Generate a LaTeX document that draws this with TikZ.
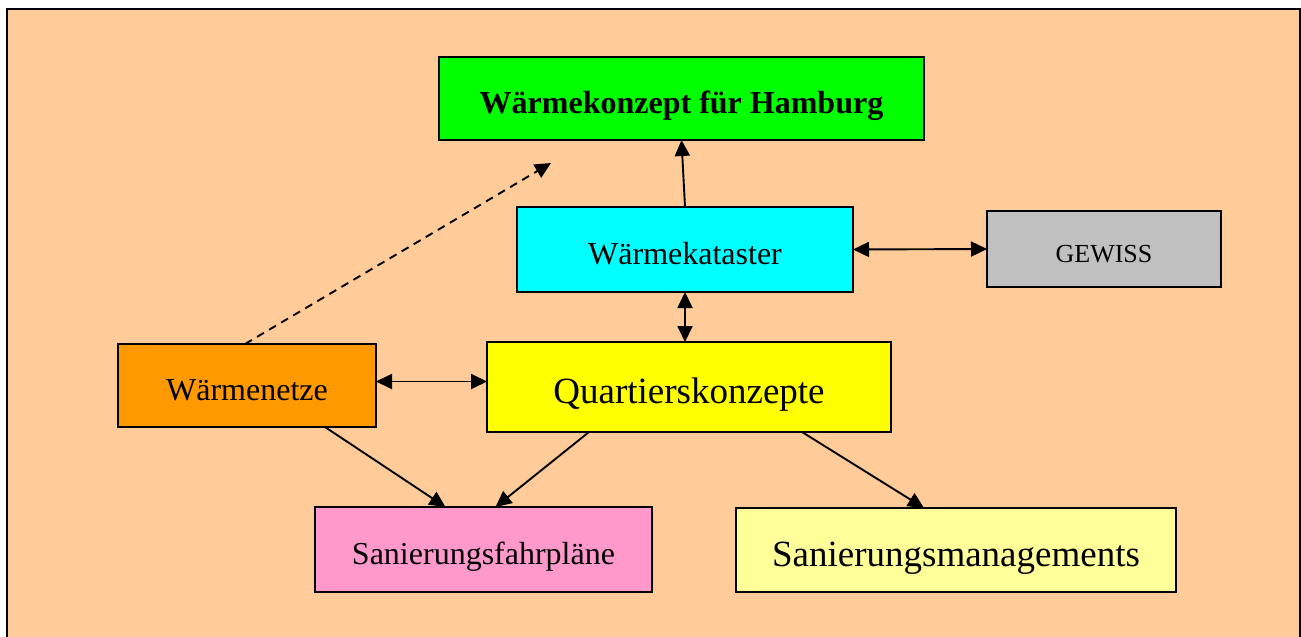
\documentclass[tikz,border=0pt]{standalone}
\usepackage{fontspec}
\setmainfont{Liberation Serif}
\usetikzlibrary{arrows.meta}
\definecolor{peach}{HTML}{FFCC99}
\definecolor{leaf}{HTML}{00FF00}
\definecolor{aqua}{HTML}{00FFFF}
\definecolor{stone}{HTML}{C0C0C0}
\definecolor{tangerine}{HTML}{FF9900}
\definecolor{lemon}{HTML}{FFFF00}
\definecolor{rose}{HTML}{FF99CC}
\definecolor{cream}{HTML}{FFFF99}
\definecolor{ink}{HTML}{000000}

\begin{document}
\begin{tikzpicture}[
  x=1pt,y=-1pt,
  font=\fontsize{32}{38}\selectfont,
  box/.style={draw=ink,line width=1.6pt,inner sep=0pt,outer sep=0pt,
              text height=29pt,text depth=0pt},
  bigtext/.style={font=\fontsize{37}{43}\selectfont,text height=33pt},
  smalltext/.style={font=\fontsize{26}{31}\selectfont,text height=26pt},
  link/.style={-{Triangle[length=16pt,width=15pt]},line width=1.9pt,draw=ink},
  both/.style={{Triangle[length=16pt,width=15pt]}-{Triangle[length=16pt,width=15pt]},
               line width=1.9pt,draw=ink},
]
\useasboundingbox (0,0) rectangle (1301,637);

% frame
\draw[line width=2pt,fill=peach] (7,9) rectangle (1300,650);

% boxes
\node[box,fill=leaf,minimum width=485,minimum height=83,
      font=\fontsize{32}{38}\selectfont\bfseries] (konzept) at (681.5,98.5)
  {Wärmekonzept für Hamburg};
\node[box,fill=aqua,minimum width=336,minimum height=85] (kataster) at (685,249.5)
  {Wärmekataster};
\node[box,fill=stone,smalltext,minimum width=234,minimum height=76] (gewiss) at (1104,249)
  {GEWISS};
\node[box,fill=tangerine,minimum width=258,minimum height=83] (netze) at (247,385.5)
  {Wärmenetze};
\node[box,fill=lemon,bigtext,minimum width=404,minimum height=90] (quartier) at (689,387)
  {Quartierskonzepte};
\node[box,fill=rose,minimum width=337,minimum height=85] (fahrplan) at (483.5,549.5)
  {Sanierungsfahrpläne};
\node[box,fill=cream,bigtext,minimum width=440,minimum height=84] (management) at (956,550)
  {Sanierungsmanagements};

% connectors
\coordinate (dashend) at (551,163);
\draw[link] (kataster.north) -- (konzept.south);
\draw[link,dashed,dash pattern=on 8pt off 6pt] ([xshift=-2]netze.north) -- (dashend);
\draw[both] (kataster.east) -- (gewiss.west);
\draw[both] (kataster.south) -- (kataster.south |- quartier.north);
\draw[both] ([yshift=4]netze.east) -- ([yshift=4]netze.east -| quartier.west);
\draw[link] ([xshift=78]netze.south) -- ([xshift=-38]fahrplan.north);
\draw[link] ([xshift=-100]quartier.south) -- ([xshift=12]fahrplan.north);
\draw[link] ([xshift=113]quartier.south) -- ([xshift=-32]management.north);

\end{tikzpicture}
\end{document}
